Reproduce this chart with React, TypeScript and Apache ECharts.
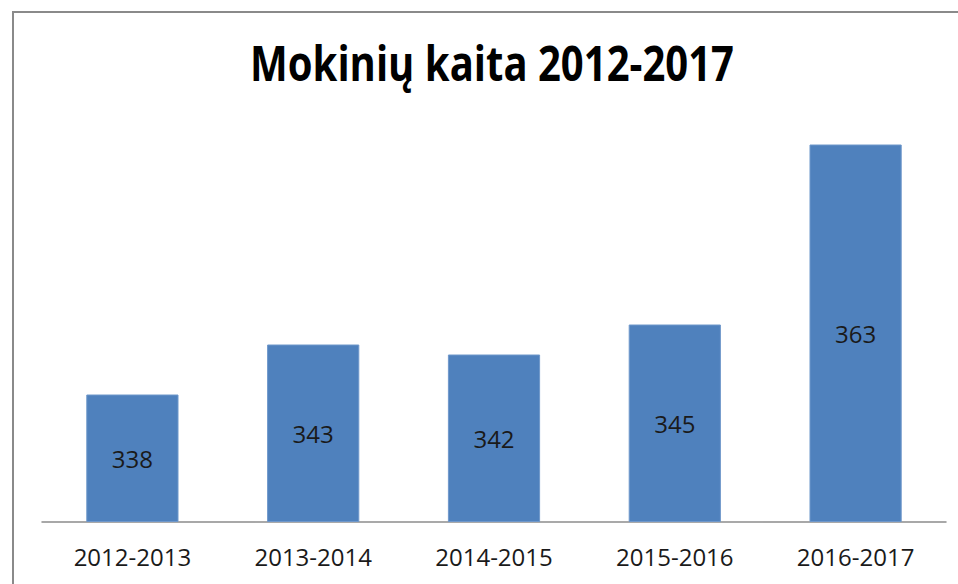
import React, { useEffect, useRef } from "react";
import * as echarts from "echarts";

const categories = ["2012-2013", "2013-2014", "2014-2015", "2015-2016", "2016-2017"];
const students = [338, 343, 342, 345, 363];
const titleText = "Mokinių kaita 2012-2017";

export default function App() {
  const ref = useRef<HTMLDivElement>(null);
  useEffect(() => {
    if (!ref.current) return;
    const chart = echarts.init(ref.current, null, { renderer: "svg" });
    chart.setOption({
      animation: false,
      backgroundColor: "#ffffff",
      graphic: [
        {
          type: "rect",
          shape: { x: 13, y: 12, width: 1000, height: 700 },
          style: { fill: "none", stroke: "#8a8a8a", lineWidth: 2 },
          silent: true,
        },
        {
          type: "text",
          x: 492,
          y: 61.5,
          scaleX: 0.817,
          style: {
            text: titleText,
            font: "bold 49px 'Open Sans'",
            fill: "#000000",
            align: "center",
            verticalAlign: "middle",
          },
        },
      ],
      grid: { left: 42, right: 12, top: 121.5, bottom: 62.5, containLabel: false },
      xAxis: {
        type: "category",
        data: categories,
        axisLine: { show: true, lineStyle: { color: "#8c8c8c", width: 1.5 } },
        axisTick: { show: false },
        axisLabel: {
          color: "#1a1a1a",
          fontFamily: "Open Sans",
          fontSize: 24,
          margin: 23,
        },
      },
      yAxis: {
        type: "value",
        min: 325.3,
        max: 365.3,
        show: false,
        splitLine: { show: false },
      },
      series: [
        {
          type: "bar",
          data: students,
          barWidth: "51%",
          itemStyle: { color: "#4f81bd", borderColor: "#6f98cb", borderWidth: 1 },
          label: {
            show: true,
            position: "inside",
            color: "#1a1a1a",
            fontFamily: "Open Sans",
            fontSize: 24,
          },
        },
      ],
    });
    return () => chart.dispose();
  }, []);
  return (
    <div
      ref={ref}
      style={{ position: "fixed", left: 0, top: 0, width: 958, height: 584 }}
    />
  );
}
